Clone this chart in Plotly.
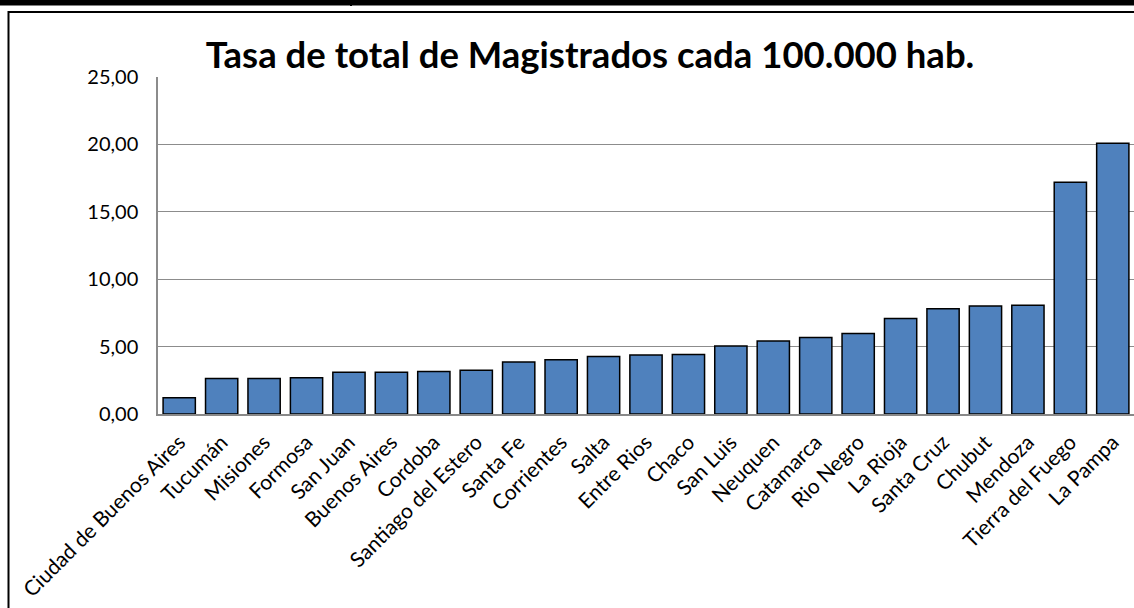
import plotly.graph_objects as go

provincias = ["Ciudad de Buenos Aires", "Tucumán", "Misiones", "Formosa", "San Juan",
              "Buenos Aires", "Cordoba", "Santiago del Estero", "Santa Fe", "Corrientes",
              "Salta", "Entre Rios", "Chaco", "San Luis", "Neuquen", "Catamarca",
              "Rio Negro", "La Rioja", "Santa Cruz", "Chubut", "Mendoza",
              "Tierra del Fuego", "La Pampa"]
tasa = [1.20, 2.63, 2.63, 2.68, 3.10, 3.10, 3.15, 3.25, 3.86, 4.03, 4.27, 4.37, 4.42,
        5.04, 5.41, 5.68, 5.97, 7.08, 7.80, 8.02, 8.07, 17.19, 20.08]
y_ticks = [0, 5, 10, 15, 20, 25]
titulo = "Tasa de total de Magistrados cada 100.000 hab."

W, H = 1134, 608
L, R, T, B = 158, 0, 77, 194
PW, PH = W - L - R, H - T - B

def px_x(px):
    return (px - L) / PW

def px_y(py):
    return (H - B - py) / PH

FONT = "Lato"

fig = go.Figure()
fig.add_trace(go.Bar(
    x=provincias, y=tasa,
    marker=dict(color="#4F81BD", line=dict(color="#000000", width=1.5)),
    width=0.76,
))

fig.update_layout(
    width=W, height=H,
    margin=dict(l=L, r=R, t=T, b=B, pad=0),
    paper_bgcolor="white", plot_bgcolor="white",
    separators=",.",
    showlegend=False,
    font=dict(family=FONT, color="#000000"),
    title=dict(text="<b>" + titulo + "</b>", font=dict(family=FONT, size=36.5, color="#000000"),
               x=px_x(590), xref="paper", xanchor="center",
               y=1 - 55 / H, yref="container", yanchor="middle"),
    xaxis=dict(tickangle=-45, tickfont=dict(family=FONT, size=21),
               showgrid=False, showline=True, linecolor="#888888", linewidth=1.5,
               ticks="", ticklabelstandoff=6, range=[-0.5, len(provincias) - 0.5]),
    yaxis=dict(range=[0, 25], tickvals=y_ticks, tickformat=".2f",
               tickfont=dict(family=FONT, size=20),
               showgrid=True, gridcolor="#8C8C8C", gridwidth=1.2,
               showline=True, linecolor="#8C8C8C", linewidth=1.5,
               ticks="", ticklabelstandoff=14, zeroline=False),
    shapes=[
        dict(type="rect", xref="paper", yref="paper",
             x0=px_x(8.5), x1=px_x(1150), y0=px_y(12), y1=px_y(640),
             line=dict(color="#000000", width=2), fillcolor="rgba(0,0,0,0)", layer="below"),
        dict(type="rect", xref="paper", yref="paper",
             x0=px_x(-5), x1=px_x(1150), y0=px_y(5.5), y1=px_y(-5),
             line=dict(width=0), fillcolor="#000000"),
        dict(type="line", xref="paper", yref="paper",
             x0=px_x(351), x1=px_x(351), y0=px_y(0), y1=px_y(6),
             line=dict(color="#000000", width=2)),
    ],
)

fig.write_html("out.html", config={"displayModeBar": False},
               post_script="document.body.style.margin='0';document.body.style.padding='0';")
